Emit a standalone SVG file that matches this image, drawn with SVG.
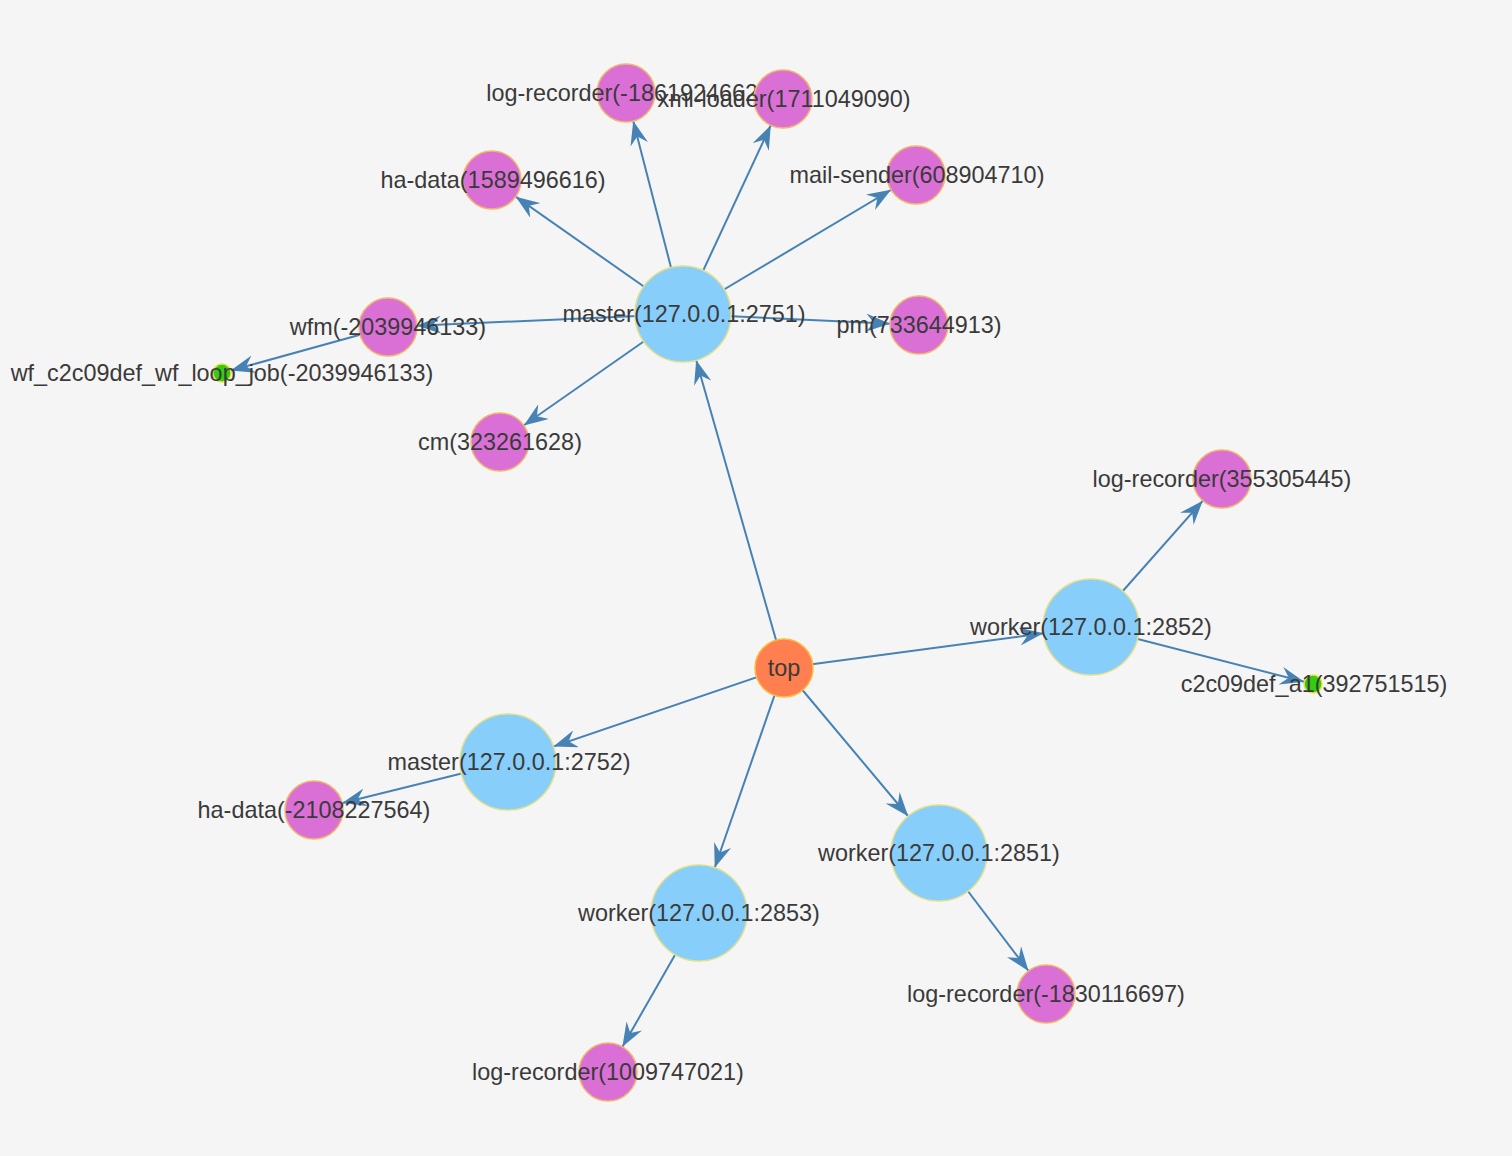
<svg xmlns="http://www.w3.org/2000/svg" width="1512" height="1156" viewBox="0 0 1512 1156">
<style>
.link{stroke:#4682b4;stroke-width:2;fill:none}
.big{fill:#87cefa;stroke:#e2e08a;stroke-width:1.5}
.small{fill:#da70d6;stroke:#f2b66b;stroke-width:1.5}
.top{fill:#ff7f50;stroke:#f5c040;stroke-width:1.5}
.leaf{fill:#33cc11;stroke:#e8e040;stroke-width:1.5}
text{font-family:"Liberation Sans",Arial,sans-serif;font-size:23.4px;fill:#3a3a3a;text-anchor:middle;dominant-baseline:central}
</style>
<defs>
<marker id="aBig" markerUnits="userSpaceOnUse" viewBox="0 0 24 18" markerWidth="24" markerHeight="18" refX="72" refY="9" orient="auto"><path d="M0,0 L24,9 L0,18 L8,9 Z" fill="#4682b4"/></marker>
<marker id="aSmall" markerUnits="userSpaceOnUse" viewBox="0 0 24 18" markerWidth="24" markerHeight="18" refX="53" refY="9" orient="auto"><path d="M0,0 L24,9 L0,18 L8,9 Z" fill="#4682b4"/></marker>
<marker id="aLeaf" markerUnits="userSpaceOnUse" viewBox="0 0 24 18" markerWidth="24" markerHeight="18" refX="33" refY="9" orient="auto"><path d="M0,0 L24,9 L0,18 L8,9 Z" fill="#4682b4"/></marker>
</defs>
<rect width="1512" height="1156" fill="#f5f5f5"/>
<g id="links">
<line class="link" x1="784" y1="668" x2="683" y2="314" marker-end="url(#aBig)"/>
<line class="link" x1="784" y1="668" x2="1091" y2="627" marker-end="url(#aBig)"/>
<line class="link" x1="784" y1="668" x2="508" y2="762" marker-end="url(#aBig)"/>
<line class="link" x1="784" y1="668" x2="699" y2="913" marker-end="url(#aBig)"/>
<line class="link" x1="784" y1="668" x2="939" y2="853" marker-end="url(#aBig)"/>
<line class="link" x1="683" y1="314" x2="626" y2="93" marker-end="url(#aSmall)"/>
<line class="link" x1="683" y1="314" x2="783" y2="99" marker-end="url(#aSmall)"/>
<line class="link" x1="683" y1="314" x2="492" y2="180" marker-end="url(#aSmall)"/>
<line class="link" x1="683" y1="314" x2="916" y2="175" marker-end="url(#aSmall)"/>
<line class="link" x1="683" y1="314" x2="919" y2="325" marker-end="url(#aSmall)"/>
<line class="link" x1="683" y1="314" x2="388" y2="327" marker-end="url(#aSmall)"/>
<line class="link" x1="683" y1="314" x2="500" y2="442" marker-end="url(#aSmall)"/>
<line class="link" x1="388" y1="327" x2="222" y2="373" marker-end="url(#aLeaf)"/>
<line class="link" x1="1091" y1="627" x2="1222" y2="479" marker-end="url(#aSmall)"/>
<line class="link" x1="1091" y1="627" x2="1313" y2="684" marker-end="url(#aLeaf)"/>
<line class="link" x1="508" y1="762" x2="314" y2="810" marker-end="url(#aSmall)"/>
<line class="link" x1="939" y1="853" x2="1046" y2="994" marker-end="url(#aSmall)"/>
<line class="link" x1="699" y1="913" x2="608" y2="1072" marker-end="url(#aSmall)"/>
</g>
<g id="n-top"><circle class="top" cx="784" cy="668" r="29"/><text x="784" y="668">top</text></g>
<g id="n-master2751"><circle class="big" cx="683" cy="314" r="48"/><text x="684" y="314">master(127.0.0.1:2751)</text></g>
<g id="n-worker2852"><circle class="big" cx="1091" cy="627" r="48"/><text x="1091" y="627">worker(127.0.0.1:2852)</text></g>
<g id="n-master2752"><circle class="big" cx="508" cy="762" r="48"/><text x="509" y="762">master(127.0.0.1:2752)</text></g>
<g id="n-worker2851"><circle class="big" cx="939" cy="853" r="48"/><text x="939" y="853">worker(127.0.0.1:2851)</text></g>
<g id="n-worker2853"><circle class="big" cx="699" cy="913" r="48"/><text x="699" y="913">worker(127.0.0.1:2853)</text></g>
<g id="n-logrec1"><circle class="small" cx="626" cy="93" r="29"/><text x="626" y="93">log-recorder(-1861924662)</text></g>
<g id="n-xmlloader"><circle class="small" cx="783" cy="99" r="29"/><text x="784" y="99">xml-loader(1711049090)</text></g>
<g id="n-hadata1"><circle class="small" cx="492" cy="180" r="29"/><text x="493" y="180">ha-data(1589496616)</text></g>
<g id="n-mailsender"><circle class="small" cx="916" cy="175" r="29"/><text x="917" y="175">mail-sender(608904710)</text></g>
<g id="n-pm"><circle class="small" cx="919" cy="325" r="29"/><text x="919" y="325">pm(733644913)</text></g>
<g id="n-wfm"><circle class="small" cx="388" cy="327" r="29"/><text x="388" y="327">wfm(-2039946133)</text></g>
<g id="n-wfloop"><circle class="leaf" cx="222" cy="373" r="9"/><text x="222" y="373">wf_c2c09def_wf_loop_job(-2039946133)</text></g>
<g id="n-cm"><circle class="small" cx="500" cy="442" r="29"/><text x="500" y="442">cm(323261628)</text></g>
<g id="n-logrec2"><circle class="small" cx="1222" cy="479" r="29"/><text x="1222" y="479">log-recorder(355305445)</text></g>
<g id="n-a1"><circle class="leaf" cx="1313" cy="684" r="9"/><text x="1314" y="684">c2c09def_a1(392751515)</text></g>
<g id="n-hadata2"><circle class="small" cx="314" cy="810" r="29"/><text x="314" y="810">ha-data(-2108227564)</text></g>
<g id="n-logrec3"><circle class="small" cx="1046" cy="994" r="29"/><text x="1046" y="994">log-recorder(-1830116697)</text></g>
<g id="n-logrec4"><circle class="small" cx="608" cy="1072" r="29"/><text x="608" y="1072">log-recorder(1009747021)</text></g>
</svg>
